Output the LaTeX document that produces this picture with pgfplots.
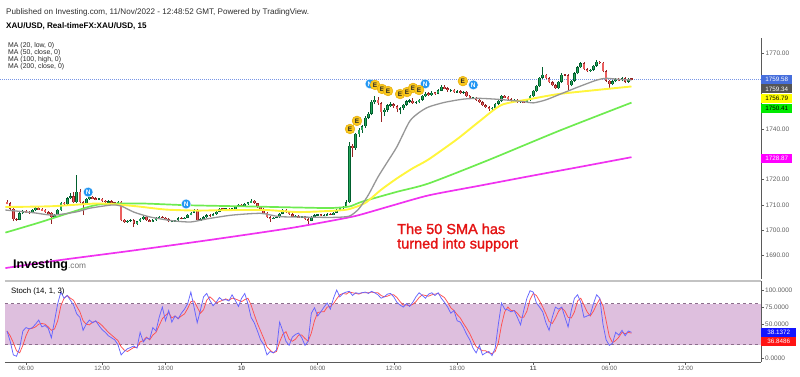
\documentclass[border=0pt]{standalone}
\usepackage{pgfplots}
\pgfplotsset{compat=1.18}
\usepackage{pgfplotstable}
\usepackage{fontspec}
\setmainfont{Liberation Sans}
\definecolor{gfill}{RGB}{38,166,91}
\definecolor{gedge}{RGB}{0,95,45}
\definecolor{rfill}{RGB}{235,95,95}
\definecolor{redge}{RGB}{150,35,35}
\definecolor{ma20}{RGB}{150,150,150}
\definecolor{ma50}{RGB}{255,245,60}
\definecolor{ma100}{RGB}{110,235,80}
\definecolor{ma200}{RGB}{240,50,240}
\definecolor{axgray}{RGB}{90,90,90}
\definecolor{lblgray}{RGB}{95,95,95}
\definecolor{sepgray}{RGB}{195,195,195}
\definecolor{band}{RGB}{222,191,222}
\definecolor{bandline}{RGB}{140,110,140}
\definecolor{kblue}{RGB}{100,100,255}
\definecolor{dred}{RGB}{255,80,80}
\definecolor{evE}{RGB}{250,200,30}
\definecolor{evEd}{RGB}{225,165,0}
\definecolor{evN}{RGB}{33,150,243}
\definecolor{dotblue}{RGB}{120,150,230}
\definecolor{lbblue}{RGB}{70,110,220}
\definecolor{lbgray}{RGB}{85,85,85}
\definecolor{lbyellow}{RGB}{255,255,0}
\definecolor{lbgreen}{RGB}{0,235,0}
\definecolor{lbmag}{RGB}{255,0,255}
\definecolor{stblue}{RGB}{20,20,255}
\definecolor{stred}{RGB}{255,20,20}
\definecolor{annred}{RGB}{228,20,20}
\definecolor{hdr}{RGB}{45,45,45}

\pgfplotstableread{
i o h l c
0 1711.3 1711.8 1710.2 1710.6
1 1710.6 1711.0 1708.2 1708.5
2 1708.5 1708.8 1703.5 1704.5
3 1704.5 1705.0 1703.8 1704.2
4 1704.2 1707.2 1703.9 1706.8
5 1706.8 1708.0 1706.4 1707.6
6 1707.6 1708.0 1706.8 1707.2
7 1707.2 1707.6 1706.6 1707.0
8 1707.0 1708.4 1706.7 1708.0
9 1708.0 1709.2 1707.7 1708.8
10 1708.8 1709.2 1708.0 1708.4
11 1708.4 1708.8 1707.6 1708.0
12 1708.0 1708.3 1706.9 1707.2
13 1707.2 1707.6 1706.4 1706.8
14 1706.8 1707.1 1702.5 1705.2
15 1705.2 1706.5 1704.8 1706.2
16 1706.2 1708.3 1705.9 1708.0
17 1708.0 1711.2 1707.7 1710.8
18 1710.8 1711.3 1710.0 1710.4
19 1710.4 1713.0 1710.1 1712.6
20 1712.6 1714.6 1712.3 1713.5
21 1713.5 1715.0 1710.7 1711.0
22 1711.0 1721.8 1710.7 1715.2
23 1715.2 1716.2 1710.6 1711.0
24 1711.0 1711.5 1706.0 1710.8
25 1710.8 1712.7 1710.4 1712.4
26 1712.4 1713.6 1712.0 1713.2
27 1713.2 1713.5 1712.3 1712.6
28 1712.6 1713.0 1711.8 1712.2
29 1712.2 1712.9 1711.9 1712.5
30 1712.5 1712.8 1711.3 1711.6
31 1711.6 1712.0 1710.9 1711.2
32 1711.2 1711.8 1710.9 1711.5
33 1711.5 1711.8 1710.6 1711.0
34 1711.0 1711.3 1710.1 1710.4
35 1710.4 1711.6 1710.0 1711.2
36 1711.2 1711.5 1703.6 1704.1
37 1704.1 1704.6 1702.9 1703.4
38 1703.4 1704.2 1703.0 1703.8
39 1703.8 1704.5 1703.4 1704.0
40 1704.0 1704.3 1701.3 1702.6
41 1702.6 1703.8 1702.2 1703.5
42 1703.5 1704.9 1703.2 1704.6
43 1704.6 1705.6 1704.2 1705.3
44 1705.3 1705.6 1703.6 1704.0
45 1704.0 1704.4 1703.2 1703.6
46 1703.6 1704.3 1703.2 1704.0
47 1704.0 1705.1 1703.7 1704.8
48 1704.8 1705.6 1704.5 1705.3
49 1705.3 1705.7 1704.7 1705.0
50 1705.0 1705.3 1704.0 1704.4
51 1704.4 1704.7 1703.1 1703.5
52 1703.5 1704.0 1703.1 1703.6
53 1703.6 1704.2 1703.3 1703.9
54 1703.9 1705.1 1703.6 1704.8
55 1704.8 1705.2 1704.3 1704.6
56 1704.6 1705.4 1704.3 1705.0
57 1705.0 1706.5 1704.7 1706.2
58 1706.2 1707.3 1705.9 1707.0
59 1707.0 1708.6 1706.7 1708.2
60 1708.2 1708.5 1703.7 1704.1
61 1704.1 1704.8 1703.7 1704.4
62 1704.4 1705.5 1704.1 1705.2
63 1705.2 1706.3 1704.9 1706.0
64 1706.0 1706.4 1705.4 1705.8
65 1705.8 1706.7 1705.5 1706.4
66 1706.4 1707.7 1706.1 1707.4
67 1707.4 1708.9 1707.1 1708.6
68 1708.6 1709.0 1707.9 1708.3
69 1708.3 1708.9 1708.0 1708.5
70 1708.5 1708.8 1707.8 1708.2
71 1708.2 1709.0 1707.9 1708.6
72 1708.6 1709.7 1708.3 1709.4
73 1709.4 1710.4 1709.1 1710.0
74 1710.0 1710.3 1709.2 1709.6
75 1709.6 1710.7 1709.3 1710.4
76 1710.4 1711.3 1710.1 1711.0
77 1711.0 1712.2 1710.7 1711.6
78 1711.6 1711.9 1710.3 1710.6
79 1710.6 1710.9 1708.9 1709.2
80 1709.2 1709.5 1708.1 1708.4
81 1708.4 1708.7 1706.5 1706.8
82 1706.8 1707.1 1704.9 1705.2
83 1705.2 1705.5 1703.4 1704.6
84 1704.6 1705.3 1704.3 1705.0
85 1705.0 1705.6 1704.7 1705.2
86 1705.2 1706.9 1704.9 1706.6
87 1706.6 1708.4 1706.3 1708.0
88 1708.0 1708.3 1706.9 1707.2
89 1707.2 1707.5 1706.1 1706.4
90 1706.4 1706.7 1705.1 1705.4
91 1705.4 1706.0 1705.1 1705.6
92 1705.6 1705.9 1704.9 1705.2
93 1705.2 1705.8 1704.9 1705.5
94 1705.5 1705.8 1704.1 1704.4
95 1704.4 1704.7 1702.6 1703.8
96 1703.8 1705.5 1703.5 1705.2
97 1705.2 1706.3 1704.9 1706.0
98 1706.0 1706.6 1705.7 1706.2
99 1706.2 1706.5 1705.5 1705.8
100 1705.8 1706.3 1705.5 1706.0
101 1706.0 1706.7 1705.7 1706.4
102 1706.4 1706.7 1705.9 1706.2
103 1706.2 1707.3 1705.9 1707.0
104 1707.0 1708.3 1706.7 1708.0
105 1708.0 1709.1 1707.7 1708.8
106 1708.8 1709.7 1708.5 1709.4
107 1709.4 1712.0 1709.1 1711.0
108 1711.0 1735.0 1710.6 1733.4
109 1733.4 1734.2 1729.1 1732.4
110 1732.4 1738.6 1731.8 1738.0
111 1738.0 1740.2 1737.0 1739.6
112 1739.6 1741.6 1738.6 1741.0
113 1741.0 1745.2 1740.4 1744.5
114 1744.5 1746.8 1743.8 1746.0
115 1746.0 1751.4 1745.4 1750.8
116 1750.8 1753.0 1749.8 1751.6
117 1751.6 1752.6 1749.6 1750.2
118 1750.2 1750.8 1742.9 1746.6
119 1746.6 1748.2 1745.2 1747.6
120 1747.6 1749.9 1746.8 1749.4
121 1749.4 1750.6 1748.6 1749.8
122 1749.8 1750.4 1748.4 1749.0
123 1749.0 1749.5 1746.6 1747.9
124 1747.9 1748.8 1745.8 1748.2
125 1748.2 1749.9 1747.6 1749.6
126 1749.6 1751.4 1749.2 1751.0
127 1751.0 1751.8 1750.4 1751.2
128 1751.2 1752.2 1750.0 1750.4
129 1750.4 1751.1 1749.8 1750.6
130 1750.6 1752.0 1750.2 1751.6
131 1751.6 1753.4 1751.2 1753.0
132 1753.0 1754.8 1752.6 1754.0
133 1754.0 1754.5 1753.0 1753.6
134 1753.6 1754.9 1753.2 1754.4
135 1754.4 1754.8 1753.5 1754.0
136 1754.0 1755.6 1753.7 1755.2
137 1755.2 1757.4 1754.9 1756.6
138 1756.6 1757.2 1755.6 1756.0
139 1756.0 1756.4 1754.8 1755.2
140 1755.2 1755.9 1754.8 1755.4
141 1755.4 1755.8 1754.2 1754.6
142 1754.6 1755.2 1754.2 1754.8
143 1754.8 1755.2 1754.0 1754.4
144 1754.4 1755.0 1754.0 1754.6
145 1754.6 1754.9 1752.6 1753.0
146 1753.0 1753.4 1751.8 1752.2
147 1752.2 1752.8 1751.8 1752.4
148 1752.4 1752.8 1751.2 1751.6
149 1751.6 1752.0 1750.2 1750.6
150 1750.6 1751.0 1749.0 1749.4
151 1749.4 1749.8 1748.2 1748.6
152 1748.6 1749.0 1747.2 1747.8
153 1747.8 1748.8 1747.4 1748.4
154 1748.4 1750.4 1748.0 1750.0
155 1750.0 1751.6 1749.6 1751.2
156 1751.2 1753.6 1750.8 1753.0
157 1753.0 1753.5 1752.2 1752.6
158 1752.6 1753.0 1751.4 1751.8
159 1751.8 1752.2 1750.8 1751.2
160 1751.2 1751.8 1750.8 1751.4
161 1751.4 1751.8 1750.4 1750.8
162 1750.8 1751.4 1750.4 1751.0
163 1751.0 1751.4 1750.2 1750.6
164 1750.6 1752.0 1750.2 1751.6
165 1751.6 1753.4 1751.2 1753.0
166 1753.0 1755.4 1752.6 1755.0
167 1755.0 1757.4 1754.6 1757.0
168 1757.0 1760.6 1756.6 1760.2
169 1760.2 1764.5 1759.8 1761.3
170 1761.3 1761.8 1759.6 1760.0
171 1760.0 1760.4 1758.0 1758.4
172 1758.4 1758.8 1756.8 1757.2
173 1757.2 1757.6 1755.8 1756.2
174 1756.2 1759.0 1755.8 1758.6
175 1758.6 1762.0 1758.2 1761.4
176 1761.4 1761.9 1760.8 1761.2
177 1761.2 1761.6 1755.5 1757.2
178 1757.2 1759.4 1756.8 1759.0
179 1759.0 1762.4 1758.6 1762.0
180 1762.0 1764.8 1761.6 1764.4
181 1764.4 1766.6 1764.0 1766.0
182 1766.0 1766.4 1763.2 1763.6
183 1763.6 1764.0 1762.6 1763.0
184 1763.0 1763.8 1762.6 1763.4
185 1763.4 1765.4 1763.0 1765.0
186 1765.0 1767.2 1764.6 1766.6
187 1766.6 1767.0 1765.8 1766.2
188 1766.2 1766.6 1762.4 1762.8
189 1762.8 1763.2 1758.6 1759.0
190 1759.0 1759.4 1756.0 1757.6
191 1757.6 1759.2 1757.2 1758.8
192 1758.8 1760.0 1758.4 1759.6
193 1759.6 1760.0 1758.8 1759.2
194 1759.2 1760.4 1758.8 1760.0
195 1760.0 1760.4 1758.2 1758.6
196 1758.6 1760.2 1758.2 1759.8
197 1759.8 1760.2 1759.2 1759.58
}\candles

\pgfplotstableread{
i K D
0 40 40
1 25 33
2 5 23
3 3 11
4 15 8
5 40 19
6 45 33
7 43 43
8 45 44
9 50 46
10 56 50
11 46 51
12 48 50
13 44 46
14 30 41
15 55 43
16 80 55
17 97 77
18 88 88
19 92 92
20 85 88
21 78 85
22 65 76
23 60 68
24 41 55
25 50 50
26 56 49
27 52 53
28 55 54
29 48 52
30 42 48
31 38 43
32 33 38
33 30 34
34 27 30
35 20 26
36 5 17
37 10 12
38 14 10
39 16 13
40 18 16
41 15 16
42 38 24
43 24 26
44 30 31
45 28 27
46 45 34
47 40 38
48 60 48
49 75 58
50 55 63
51 70 67
52 53 59
53 62 62
54 58 58
55 66 62
56 72 65
57 80 73
58 97 83
59 75 84
60 52 75
61 70 66
62 90 71
63 95 85
64 85 90
65 77 86
66 82 81
67 89 83
68 85 85
69 86 87
70 84 85
71 93 88
72 85 87
73 76 85
74 88 83
75 95 86
76 80 88
77 60 78
78 52 64
79 40 51
80 27 40
81 20 29
82 5 17
83 10 12
84 8 8
85 12 10
86 53 24
87 40 35
88 25 39
89 19 28
90 31 25
91 35 28
92 37 34
93 30 34
94 19 29
95 25 25
96 66 37
97 74 55
98 62 67
99 68 68
100 75 68
101 81 75
102 72 76
103 88 80
104 100 87
105 90 93
106 95 95
107 97 94
108 98 97
109 92 96
110 96 95
111 95 94
112 96 96
113 97 96
114 95 96
115 98 97
116 96 96
117 93 96
118 88 92
119 90 90
120 94 91
121 95 93
122 90 93
123 82 89
124 78 83
125 75 78
126 80 78
127 76 77
128 82 79
129 90 83
130 96 89
131 92 93
132 88 92
133 94 91
134 96 93
135 92 94
136 96 95
137 88 92
138 82 89
139 75 82
140 66 74
141 70 70
142 55 64
143 53 59
144 45 51
145 35 44
146 27 36
147 15 26
148 8 17
149 19 14
150 5 11
151 8 11
152 10 8
153 4 7
154 15 10
155 50 23
156 81 49
157 72 68
158 71 75
159 68 70
160 70 70
161 60 66
162 49 60
163 70 60
164 88 69
165 99 86
166 97 95
167 81 92
168 75 84
169 68 75
170 52 65
171 41 54
172 60 51
173 75 59
174 72 69
175 75 74
176 60 69
177 46 60
178 70 59
179 88 68
180 93 84
181 82 88
182 60 78
183 62 68
184 64 62
185 80 69
186 93 79
187 88 87
188 50 77
189 27 55
190 19 32
191 22 23
192 38 26
193 34 31
194 41 38
195 33 36
196 40 38
197 38.14 36.85
}\stoch

\pgfplotstableread{
x y
25.6 1715.1
56.5 1710.4
114.5 1757.8
131.9 1757.8
147.1 1757.4
}\evN
\pgfplotstableread{
x y
108.2 1740.0
110.4 1743.2
116.1 1757.4
118.3 1755.8
120.2 1755.0
124.0 1753.8
126.2 1754.6
128.1 1756.2
130.0 1755.4
143.8 1758.9
}\evE

\begin{document}
\begin{tikzpicture}
\useasboundingbox (0pt,0pt) rectangle (800pt,376pt);

% ---------------- main price panel ----------------
\begin{axis}[
  at={(5pt,97pt)}, anchor=south west, scale only axis,
  width=756pt, height=241pt,
  xmin=-0.63, xmax=237.85, ymin=1680.78, ymax=1775.92,
  axis x line=none, axis y line*=right,
  y axis line style={draw=axgray, line width=0.8pt, -},
  xtick=\empty,
  ytick={1690,1700,1710,1720,1740,1770},
  yticklabels={1690.00,1700.00,1710.00,1720.00,1740.00,1770.00},
  tick align=outside, major tick length=3pt,
  tick style={draw=axgray, line width=0.5pt},
  yticklabel style={font=\fontsize{6.5}{7}\selectfont, text=lblgray, inner sep=1.5pt},
  clip=false,
]
% dotted last price line
\addplot [dotblue, line width=0.8pt, dash pattern=on 1pt off 1pt, forget plot] coordinates {(-2.2,1759.58) (237.85,1759.58)};

% wicks
\addplot [draw=none, mark=none, forget plot,
  restrict expr to domain={\thisrow{c}-\thisrow{o}}{0:1000},
  error bars/.cd, y dir=plus, y explicit, error mark=none,
  error bar style={draw=gedge, line width=0.7pt, solid}]
  table [x=i, y=l, y error plus expr=\thisrow{h}-\thisrow{l}] {\candles};
\addplot [draw=none, mark=none, forget plot,
  restrict expr to domain={\thisrow{c}-\thisrow{o}}{-1000:-0.0001},
  error bars/.cd, y dir=plus, y explicit, error mark=none,
  error bar style={draw=redge, line width=0.7pt, solid}]
  table [x=i, y=l, y error plus expr=\thisrow{h}-\thisrow{l}] {\candles};
% bodies (outline)
\addplot [draw=none, mark=none, forget plot,
  restrict expr to domain={\thisrow{c}-\thisrow{o}}{0:1000},
  error bars/.cd, y dir=both, y explicit, error mark=none,
  error bar style={draw=gedge, line width=2.6pt, solid}]
  table [x=i, y expr=(\thisrow{o}+\thisrow{c})/2, y error expr={max(abs(\thisrow{c}-\thisrow{o})/2,0.25)}] {\candles};
\addplot [draw=none, mark=none, forget plot,
  restrict expr to domain={\thisrow{c}-\thisrow{o}}{-1000:-0.0001},
  error bars/.cd, y dir=both, y explicit, error mark=none,
  error bar style={draw=redge, line width=2.6pt, solid}]
  table [x=i, y expr=(\thisrow{o}+\thisrow{c})/2, y error expr={max(abs(\thisrow{c}-\thisrow{o})/2,0.25)}] {\candles};
% bodies (fill)
\addplot [draw=none, mark=none, forget plot,
  restrict expr to domain={\thisrow{c}-\thisrow{o}}{0:1000},
  error bars/.cd, y dir=both, y explicit, error mark=none,
  error bar style={draw=gfill, line width=1.3pt, solid}]
  table [x=i, y expr=(\thisrow{o}+\thisrow{c})/2, y error expr={max(abs(\thisrow{c}-\thisrow{o})/2-0.16,0)}] {\candles};
\addplot [draw=none, mark=none, forget plot,
  restrict expr to domain={\thisrow{c}-\thisrow{o}}{-1000:-0.0001},
  error bars/.cd, y dir=both, y explicit, error mark=none,
  error bar style={draw=rfill, line width=1.3pt, solid}]
  table [x=i, y expr=(\thisrow{o}+\thisrow{c})/2, y error expr={max(abs(\thisrow{c}-\thisrow{o})/2-0.16,0)}] {\candles};

% moving averages
\addplot [ma200, line width=1.7pt, smooth, tension=0.4] coordinates {
(-0.5,1685.1) (17,1688.3) (39,1691.9) (64,1696.2) (89,1700.8) (105,1704.4) (111,1706.0) (121,1709.6) (133,1713.8) (149,1717.6) (165,1721.4) (181,1725.1) (197,1728.87)};
\addplot [ma100, line width=1.7pt, smooth, tension=0.4] coordinates {
(-0.5,1699.1) (10,1703.0) (20,1707.0) (29,1710.2) (42,1710.6) (57,1709.9) (77,1709.4) (92,1709.0) (102,1708.8) (108,1709.4) (112,1711.3) (123,1715.2) (133,1718.5) (152,1727.8) (174,1739.2) (197,1750.41)};
\addplot [ma50, line width=1.9pt, smooth, tension=0.4] coordinates {
(-0.5,1709.2) (14,1709.5) (29,1710.6) (40,1709.6) (50,1708.2) (60,1707.8) (71,1708.0) (82,1708.0) (92,1707.2) (104,1707.8) (108,1708.4) (113,1710.8) (118,1716.0) (123,1720.5) (128,1724.5) (133,1728.0) (142,1736.0) (149,1743.0) (156,1749.5) (165,1751.8) (174,1753.8) (186,1755.4) (197,1756.79)};
\addplot [ma20, line width=1.3pt, smooth, tension=0.4] coordinates {
(-0.5,1708.0) (8,1707.0) (14.5,1706.0) (22,1707.3) (26,1708.7) (33,1710.0) (36,1709.6) (40,1707.2) (45,1705.3) (52,1703.8) (58,1703.3) (63,1704.5) (71,1706.0) (80,1706.7) (86,1705.4) (95,1705.2) (103,1705.1) (108,1705.6) (111,1708.5) (114,1714.0) (117,1721.0) (120,1727.0) (123,1733.0) (127,1743.0) (130,1746.5) (133,1748.7) (138,1750.5) (144,1751.8) (149,1752.1) (155,1751.7) (163,1750.8) (166,1750.3) (170,1751.5) (175,1754.0) (180,1756.5) (186,1759.3) (189,1760.0) (193,1759.6) (197,1759.34)};

% event markers
\addplot [only marks, mark=*, mark size=4.9pt, mark options={fill=evN, draw=white, line width=0.4pt},
  nodes near coords={N},
  every node near coord/.style={anchor=center, text=white, inner sep=0pt, font=\fontsize{6.5}{7}\selectfont\bfseries}]
  table [x=x, y=y] {\evN};
\addplot [only marks, mark=*, mark size=4.9pt, mark options={fill=evE, draw=evEd, line width=0.4pt},
  nodes near coords={E},
  every node near coord/.style={anchor=center, text=black!85, inner sep=0pt, font=\fontsize{6.5}{7}\selectfont\bfseries}]
  table [x=x, y=y] {\evE};

% price label boxes
\tikzset{pl/.style={anchor=west, inner sep=0pt, minimum width=31pt, minimum height=9pt, font=\fontsize{6.3}{7}\selectfont}}
\node[pl, fill=lbmag, text=white] at (axis cs:237.85,1728.3) {1728.87};
\node[pl, fill=lbgreen, text=black] at (axis cs:237.85,1748.2) {1750.41};
\node[pl, fill=lbyellow, text=black] at (axis cs:237.85,1752.2) {1756.79};
\node[pl, fill=lbgray, text=white] at (axis cs:237.85,1755.8) {1759.34};
\node[pl, fill=lbblue, text=white] at (axis cs:237.85,1759.6) {1759.58};
\end{axis}

% ---------------- stochastic panel ----------------
\begin{axis}[
  at={(5pt,14pt)}, anchor=south west, scale only axis,
  width=756pt, height=81pt,
  xmin=-0.63, xmax=237.85, ymin=-5.4, ymax=113.2,
  axis x line*=bottom, axis y line*=right,
  axis line style={draw=axgray, line width=0.8pt, -},
  xtick={6,30,50,74,98,122,142,166,190,214},
  xticklabels={06:00,12:00,18:00,\textbf{10},06:00,12:00,18:00,\textbf{11},06:00,12:00},
  ytick={0,50,75,100},
  yticklabels={0.0000,50.0000,75.0000,100.0000},
  tick align=outside, major tick length=2.5pt,
  tick style={draw=axgray, line width=0.5pt},
  xticklabel style={font=\fontsize{6.2}{7}\selectfont, text=lblgray, inner sep=1.2pt},
  yticklabel style={font=\fontsize{6.5}{7}\selectfont, text=lblgray, inner sep=1.5pt},
  clip=false,
]
\addplot [fill=band, draw=none, forget plot] coordinates {(-0.63,20) (237.85,20) (237.85,80) (-0.63,80)} -- cycle;
\addplot [bandline, dashed, line width=0.6pt, forget plot] coordinates {(-0.63,80) (237.85,80)};
\addplot [bandline, dashed, line width=0.6pt, forget plot] coordinates {(-0.63,20) (237.85,20)};
\addplot [dred, line width=0.75pt] table [x=i, y=D] {\stoch};
\addplot [kblue, line width=0.75pt] table [x=i, y=K] {\stoch};
\draw [sepgray, line width=1.5pt] (rel axis cs:0,1) -- (rel axis cs:1,1);
\tikzset{sl/.style={anchor=west, inner sep=0pt, minimum width=35pt, minimum height=9pt, font=\fontsize{6.3}{7}\selectfont, text=white}}
\node[sl, fill=stred] at (axis cs:237.85,25.3) {36.8486};
\node[sl, fill=stblue] at (axis cs:237.85,38.3) {38.1372};
\end{axis}

% ---------------- texts ----------------
\node[anchor=west, inner sep=0pt, font=\fontsize{8.1}{9}\selectfont, text=hdr] at (6pt,363.3pt) {Published on Investing.com, 11/Nov/2022 - 12:48:52 GMT, Powered by TradingView.};
\node[anchor=west, inner sep=0pt, font=\fontsize{8.1}{9}\selectfont\bfseries, text=black] at (6pt,350pt) {XAU/USD, Real-timeFX:XAU/USD, 15};
\node[anchor=west, inner sep=0pt, font=\fontsize{6.9}{7}\selectfont, text=black!85] at (8pt,330.3pt) {MA (20, low, 0)};
\node[anchor=west, inner sep=0pt, font=\fontsize{6.9}{7}\selectfont, text=black!85] at (8pt,323.3pt) {MA (50, close, 0)};
\node[anchor=west, inner sep=0pt, font=\fontsize{6.9}{7}\selectfont, text=black!85] at (8pt,316.6pt) {MA (100, high, 0)};
\node[anchor=west, inner sep=0pt, font=\fontsize{6.9}{7}\selectfont, text=black!85] at (8pt,309.3pt) {MA (200, close, 0)};
\node[anchor=base west, inner sep=0pt] at (13pt,108pt) {\fontsize{12.5}{13}\selectfont\bfseries Investing\fontsize{8.3}{9}\selectfont\mdseries\color{black!55}.com};
\node[anchor=west, inner sep=0pt, font=\fontsize{7.8}{8}\selectfont, text=black] at (11pt,85pt) {Stoch (14, 1, 3)};
\node[anchor=base west, inner sep=0pt, font=\fontsize{14.5}{15}\selectfont\addfontfeature{FakeBold=1.6}, text=annred] at (397pt,142pt) {The 50 SMA has};
\node[anchor=base west, inner sep=0pt, font=\fontsize{14.5}{15}\selectfont\addfontfeature{FakeBold=1.6}, text=annred] at (397pt,127.5pt) {turned into support};
\end{tikzpicture}
\end{document}
